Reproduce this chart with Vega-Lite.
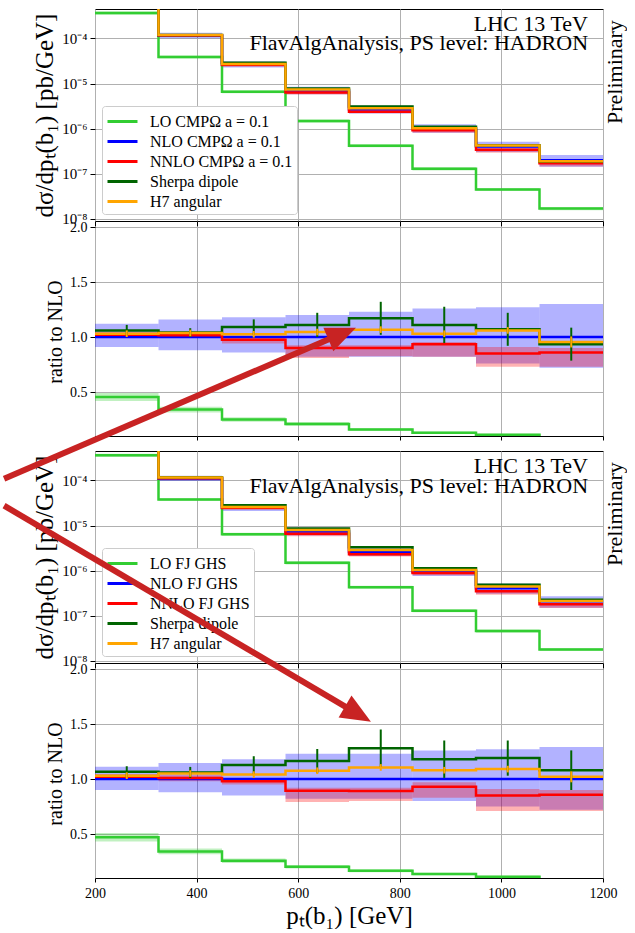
{
  "$schema": "https://vega.github.io/schema/vega-lite/v6.json",
  "padding": {"left": 0, "top": 8, "right": 0, "bottom": 0},
  "background": "white",
  "config": {
    "font": "Liberation Serif",
    "view": {"stroke": "black", "strokeWidth": 1},
    "axis": {"grid": true, "gridColor": "#b0b0b0", "gridWidth": 1, "domain": false, "tickColor": "black", "tickSize": 5, "labelColor": "black", "labelFontSize": 14, "labelFont": "Liberation Serif", "titleFont": "Liberation Serif", "titleFontWeight": "normal", "titleColor": "black", "labelFlush": false, "labelPadding": 3}
  },
  "datasets": {
    "one": [{"k": 0}],
    "m1": [
      {"lo":200,"hi":325,"c":262.5,"LO":3.66e-4,"LOl":3.37e-4,"LOh":3.95e-4,"NLO":8.04e-4,"NLOl":7.32e-4,"NLOh":9.0e-4,"NNLO":8.2e-4,"NNLOl":8.04e-4,"NNLOh":8.4e-4,"SH":8.52e-4,"H7":8.28e-4},
      {"lo":325,"hi":450,"c":387.5,"LO":3.9e-5,"LOl":3.59e-5,"LOh":4.21e-5,"NLO":1.147e-4,"NLOl":1.009e-4,"NLOh":1.331e-4,"NNLO":1.164e-4,"NNLOl":1.136e-4,"NNLOh":1.193e-4,"SH":1.193e-4,"H7":1.188e-4},
      {"lo":450,"hi":575,"c":512.5,"LO":6.6e-6,"LOl":6.07e-6,"LOh":7.13e-6,"NLO":2.64e-5,"NLOl":2.27e-5,"NLOh":3.115e-5,"NNLO":2.577e-5,"NNLOl":2.48e-5,"NNLOh":2.64e-5,"SH":2.878e-5,"H7":2.706e-5},
      {"lo":575,"hi":700,"c":637.5,"LO":1.48e-6,"LOl":1.36e-6,"LOh":1.6e-6,"NLO":7.05e-6,"NLOl":5.78e-6,"NLOh":8.46e-6,"NNLO":6.35e-6,"NNLOl":5.71e-6,"NNLOh":6.52e-6,"SH":7.83e-6,"H7":7.37e-6},
      {"lo":700,"hi":825,"c":762.5,"LO":4.2e-7,"LOl":3.86e-7,"LOh":4.54e-7,"NLO":2.66e-6,"NLOl":2.18e-6,"NLOh":3.27e-6,"NNLO":2.39e-6,"NNLOl":2.19e-6,"NNLOh":2.46e-6,"SH":3.11e-6,"H7":2.84e-6},
      {"lo":825,"hi":950,"c":887.5,"LO":1.29e-7,"LOl":1.19e-7,"LOh":1.39e-7,"NLO":9.92e-7,"NLOl":8.13e-7,"NLOh":1.25e-6,"NNLO":9.28e-7,"NNLOl":8.13e-7,"NNLOh":9.47e-7,"SH":1.101e-6,"H7":1.022e-6},
      {"lo":950,"hi":1075,"c":1012.5,"LO":4.5e-8,"LOl":4.14e-8,"LOh":4.86e-8,"NLO":4.02e-7,"NLOl":3.06e-7,"NLOh":5.11e-7,"NNLO":3.42e-7,"NNLOl":2.93e-7,"NNLOh":3.66e-7,"SH":4.3e-7,"H7":4.26e-7},
      {"lo":1075,"hi":1200,"c":1137.5,"LO":1.7e-8,"LOl":1.56e-8,"LOh":1.84e-8,"NLO":2.0e-7,"NLOl":1.44e-7,"NLOh":2.6e-7,"NNLO":1.72e-7,"NNLOl":1.46e-7,"NNLOh":1.8e-7,"SH":1.87e-7,"H7":1.91e-7}
    ],
    "r1": [
      {"lo":200,"hi":325,"c":262.5,"LO":0.455,"LOl":0.419,"LOh":0.491,"NLO":1,"NLOl":0.91,"NLOh":1.12,"NNLO":1.02,"NNLOl":1.0,"NNLOh":1.045,"SH":1.06,"SHl":1.01,"SHh":1.11,"H7":1.03,"H7l":1.0,"H7h":1.06},
      {"lo":325,"hi":450,"c":387.5,"LO":0.34,"LOl":0.313,"LOh":0.367,"NLO":1,"NLOl":0.88,"NLOh":1.16,"NNLO":1.015,"NNLOl":0.99,"NNLOh":1.04,"SH":1.04,"SHl":1.0,"SHh":1.08,"H7":1.036,"H7l":1.006,"H7h":1.066},
      {"lo":450,"hi":575,"c":512.5,"LO":0.25,"LOl":0.23,"LOh":0.27,"NLO":1,"NLOl":0.86,"NLOh":1.18,"NNLO":0.976,"NNLOl":0.94,"NNLOh":1.0,"SH":1.09,"SHl":1.02,"SHh":1.16,"H7":1.025,"H7l":0.995,"H7h":1.055},
      {"lo":575,"hi":700,"c":637.5,"LO":0.21,"LOl":0.193,"LOh":0.227,"NLO":1,"NLOl":0.82,"NLOh":1.2,"NNLO":0.9,"NNLOl":0.81,"NNLOh":0.925,"SH":1.11,"SHl":1.0,"SHh":1.22,"H7":1.045,"H7l":1.015,"H7h":1.075},
      {"lo":700,"hi":825,"c":762.5,"LO":0.158,"LOl":0.145,"LOh":0.171,"NLO":1,"NLOl":0.82,"NLOh":1.23,"NNLO":0.9,"NNLOl":0.825,"NNLOh":0.925,"SH":1.17,"SHl":1.02,"SHh":1.32,"H7":1.067,"H7l":1.037,"H7h":1.097},
      {"lo":825,"hi":950,"c":887.5,"LO":0.13,"LOl":0.12,"LOh":0.14,"NLO":1,"NLOl":0.82,"NLOh":1.26,"NNLO":0.935,"NNLOl":0.82,"NNLOh":0.955,"SH":1.11,"SHl":0.945,"SHh":1.275,"H7":1.03,"H7l":1.0,"H7h":1.06},
      {"lo":950,"hi":1075,"c":1012.5,"LO":0.112,"LOl":0.103,"LOh":0.121,"NLO":1,"NLOl":0.76,"NLOh":1.27,"NNLO":0.85,"NNLOl":0.73,"NNLOh":0.91,"SH":1.07,"SHl":0.92,"SHh":1.22,"H7":1.06,"H7l":1.03,"H7h":1.09},
      {"lo":1075,"hi":1200,"c":1137.5,"LO":0.085,"LOl":0.078,"LOh":0.092,"NLO":1,"NLOl":0.72,"NLOh":1.3,"NNLO":0.86,"NNLOl":0.73,"NNLOh":0.9,"SH":0.935,"SHl":0.785,"SHh":1.085,"H7":0.955,"H7l":0.905,"H7h":1.005}
    ],
    "m2": [
      {"lo":200,"hi":325,"c":262.5,"LO":3.6e-4,"LOl":3.31e-4,"LOh":3.89e-4,"NLO":7.66e-4,"NLOl":6.89e-4,"NLOh":8.52e-4,"NNLO":7.81e-4,"NNLOl":7.58e-4,"NNLOh":8.0e-4,"SH":8.17e-4,"H7":7.89e-4},
      {"lo":325,"hi":450,"c":387.5,"LO":3.8e-5,"LOl":3.5e-5,"LOh":4.1e-5,"NLO":1.111e-4,"NLOl":9.78e-5,"NLOh":1.272e-4,"NNLO":1.122e-4,"NNLOl":1.089e-4,"NNLOh":1.15e-4,"SH":1.178e-4,"H7":1.167e-4},
      {"lo":450,"hi":575,"c":512.5,"LO":6.4e-6,"LOl":5.89e-6,"LOh":6.91e-6,"NLO":2.49e-5,"NLOl":2.117e-5,"NLOh":2.938e-5,"NNLO":2.44e-5,"NNLOl":2.366e-5,"NNLOh":2.49e-5,"SH":2.806e-5,"H7":2.59e-5},
      {"lo":575,"hi":700,"c":637.5,"LO":1.5e-6,"LOl":1.38e-6,"LOh":1.62e-6,"NLO":7.39e-6,"NLOl":6.06e-6,"NLOh":9.09e-6,"NNLO":6.61e-6,"NNLOl":5.84e-6,"NNLOh":6.8e-6,"SH":8.59e-6,"H7":7.94e-6},
      {"lo":700,"hi":825,"c":762.5,"LO":4.3e-7,"LOl":3.96e-7,"LOh":4.64e-7,"NLO":2.59e-6,"NLOl":2.12e-6,"NLOh":3.19e-6,"NNLO":2.31e-6,"NNLOl":2.07e-6,"NNLOh":2.38e-6,"SH":3.32e-6,"H7":2.86e-6},
      {"lo":825,"hi":950,"c":887.5,"LO":1.3e-7,"LOl":1.2e-7,"LOh":1.4e-7,"NLO":9.56e-7,"NLOl":7.65e-7,"NLOh":1.205e-6,"NNLO":8.89e-7,"NNLOl":7.93e-7,"NNLOh":9.27e-7,"SH":1.128e-6,"H7":1.032e-6},
      {"lo":950,"hi":1075,"c":1012.5,"LO":4.6e-8,"LOl":4.23e-8,"LOh":4.97e-8,"NLO":4.11e-7,"NLOl":3.08e-7,"NLOh":5.22e-7,"NNLO":3.49e-7,"NNLOl":2.92e-7,"NNLOh":3.74e-7,"SH":4.89e-7,"H7":4.48e-7},
      {"lo":1075,"hi":1200,"c":1137.5,"LO":1.8e-8,"LOl":1.66e-8,"LOh":1.94e-8,"NLO":2.1e-7,"NLOl":1.51e-7,"NLOh":2.71e-7,"NNLO":1.8e-7,"NNLOl":1.49e-7,"NNLOh":1.89e-7,"SH":2.27e-7,"H7":2.14e-7}
    ],
    "r2": [
      {"lo":200,"hi":325,"c":262.5,"LO":0.47,"LOl":0.432,"LOh":0.508,"NLO":1,"NLOl":0.9,"NLOh":1.112,"NNLO":1.02,"NNLOl":0.99,"NNLOh":1.045,"SH":1.066,"SHl":1.016,"SHh":1.116,"H7":1.03,"H7l":1.0,"H7h":1.06},
      {"lo":325,"hi":450,"c":387.5,"LO":0.342,"LOl":0.315,"LOh":0.369,"NLO":1,"NLOl":0.88,"NLOh":1.145,"NNLO":1.01,"NNLOl":0.98,"NNLOh":1.035,"SH":1.06,"SHl":1.01,"SHh":1.11,"H7":1.05,"H7l":1.02,"H7h":1.08},
      {"lo":450,"hi":575,"c":512.5,"LO":0.257,"LOl":0.236,"LOh":0.278,"NLO":1,"NLOl":0.85,"NLOh":1.18,"NNLO":0.98,"NNLOl":0.95,"NNLOh":1.0,"SH":1.127,"SHl":1.047,"SHh":1.207,"H7":1.04,"H7l":1.01,"H7h":1.07},
      {"lo":575,"hi":700,"c":637.5,"LO":0.203,"LOl":0.187,"LOh":0.219,"NLO":1,"NLOl":0.82,"NLOh":1.23,"NNLO":0.894,"NNLOl":0.79,"NNLOh":0.92,"SH":1.163,"SHl":1.053,"SHh":1.273,"H7":1.075,"H7l":1.045,"H7h":1.105},
      {"lo":700,"hi":825,"c":762.5,"LO":0.166,"LOl":0.153,"LOh":0.179,"NLO":1,"NLOl":0.82,"NLOh":1.23,"NNLO":0.89,"NNLOl":0.8,"NNLOh":0.92,"SH":1.28,"SHl":1.11,"SHh":1.45,"H7":1.105,"H7l":1.075,"H7h":1.135},
      {"lo":825,"hi":950,"c":887.5,"LO":0.136,"LOl":0.125,"LOh":0.147,"NLO":1,"NLOl":0.8,"NLOh":1.26,"NNLO":0.93,"NNLOl":0.83,"NNLOh":0.97,"SH":1.18,"SHl":1.01,"SHh":1.35,"H7":1.08,"H7l":1.05,"H7h":1.11},
      {"lo":950,"hi":1075,"c":1012.5,"LO":0.112,"LOl":0.103,"LOh":0.121,"NLO":1,"NLOl":0.75,"NLOh":1.27,"NNLO":0.85,"NNLOl":0.71,"NNLOh":0.91,"SH":1.19,"SHl":1.03,"SHh":1.35,"H7":1.09,"H7l":1.06,"H7h":1.12},
      {"lo":1075,"hi":1200,"c":1137.5,"LO":0.086,"LOl":0.079,"LOh":0.093,"NLO":1,"NLOl":0.72,"NLOh":1.29,"NNLO":0.857,"NNLOl":0.71,"NNLOh":0.9,"SH":1.08,"SHl":0.9,"SHh":1.26,"H7":1.02,"H7l":0.97,"H7h":1.07}
    ]
  },
  "bounds": "flush",
  "spacing": 6,
  "resolve": {"scale": {"x": "independent", "y": "independent", "color": "independent"}, "legend": {"color": "independent"}},
  "vconcat": [
    {
      "width": 508, "height": 212,
      "data": {"name": "m1"},
      "layer": [
        {"mark": {"type": "rect", "color": "#32cd32", "opacity": 0.3, "clip": true},
         "encoding": {
           "x": {"field": "lo", "type": "quantitative", "scale": {"domain": [200, 1200], "nice": false, "zero": false}, "axis": {"values": [200, 400, 600, 800, 1000, 1200], "labels": false, "ticks": true, "tickSize": 5, "title": null}},
           "x2": {"field": "hi"},
           "y": {"field": "LOl", "type": "quantitative", "scale": {"type": "log", "domain": [9e-9, 4.5e-4], "nice": false}, "axis": {"values": [1e-8, 1e-7, 1e-6, 1e-5, 1e-4], "labelFontSize": 15, "labelExpr": "datum.value < 5e-8 ? '10⁻⁸' : datum.value < 5e-7 ? '10⁻⁷' : datum.value < 5e-6 ? '10⁻⁶' : datum.value < 5e-5 ? '10⁻⁵' : '10⁻⁴'", "title": "dσ/dpₜ(b₁) [pb/GeV]", "titleFontSize": 25, "titlePadding": 4}},
           "y2": {"field": "LOh"}}},
        {"mark": {"type": "rect", "color": "#0000ff", "opacity": 0.3, "clip": true},
         "encoding": {"x": {"field": "lo", "type": "quantitative"}, "x2": {"field": "hi"}, "y": {"field": "NLOl", "type": "quantitative"}, "y2": {"field": "NLOh"}}},
        {"mark": {"type": "rect", "color": "#ff0000", "opacity": 0.3, "clip": true},
         "encoding": {"x": {"field": "lo", "type": "quantitative"}, "x2": {"field": "hi"}, "y": {"field": "NNLOl", "type": "quantitative"}, "y2": {"field": "NNLOh"}}},
        {"transform": [{"fold": ["LO", "NLO", "NNLO", "SH", "H7"], "as": ["s", "v"]}, {"fold": ["lo", "hi"], "as": ["e", "xe"]}],
         "mark": {"type": "line", "strokeWidth": 2.5, "clip": true},
         "encoding": {
           "x": {"field": "xe", "type": "quantitative"},
           "y": {"field": "v", "type": "quantitative"},
           "color": {"field": "s", "type": "nominal", "scale": {"domain": ["LO", "NLO", "NNLO", "SH", "H7"], "range": ["#32cd32", "#0000ff", "#ff0000", "#006400", "#ffa500"]},
             "legend": {"title": null, "orient": "bottom-left", "offset": 7, "padding": 4, "fillColor": "white", "strokeColor": "#cccccc", "cornerRadius": 3, "symbolType": "M-1,0H2", "symbolSize": 400, "symbolStrokeWidth": 3, "labelFontSize": 16, "labelFont": "Liberation Serif", "labelColor": "black", "labelOffset": 21, "rowPadding": 0, "labelLimit": 300,
               "labelExpr": "datum.label == 'LO' ? 'LO CMPΩ a = 0.1' : datum.label == 'NLO' ? 'NLO CMPΩ a = 0.1' : datum.label == 'NNLO' ? 'NNLO CMPΩ a = 0.1' : datum.label == 'SH' ? 'Sherpa dipole' : 'H7 angular'"}},
           "order": [{"field": "c", "type": "quantitative"}, {"field": "e", "type": "nominal", "sort": "descending"}]}},
        {"data": {"name": "one"}, "mark": {"type": "text", "text": "LHC 13 TeV", "align": "right", "baseline": "alphabetic", "fontSize": 22, "fontWeight": "normal", "font": "Liberation Serif", "color": "black"},
         "encoding": {"x": {"datum": 1170.5}, "y": {"datum": 1.48e-4}}},
        {"data": {"name": "one"}, "mark": {"type": "text", "text": "FlavAlgAnalysis, PS level: HADRON", "align": "right", "baseline": "alphabetic", "fontSize": 22, "fontWeight": "normal", "font": "Liberation Serif", "color": "black"},
         "encoding": {"x": {"datum": 1170.5}, "y": {"datum": 5.52e-5}}},
        {"data": {"name": "one"}, "mark": {"type": "text", "text": "Preliminary", "angle": 270, "align": "center", "baseline": "alphabetic", "fontSize": 22, "fontWeight": "normal", "font": "Liberation Serif", "color": "black"},
         "encoding": {"x": {"datum": 1237}, "y": {"datum": 1.8e-5}}}
      ]
    },
    {
      "width": 508, "height": 209,
      "data": {"name": "r1"},
      "layer": [
        {"mark": {"type": "rect", "color": "#32cd32", "opacity": 0.3, "clip": true},
         "encoding": {
           "x": {"field": "lo", "type": "quantitative", "scale": {"domain": [200, 1200], "nice": false, "zero": false}, "axis": {"values": [200, 400, 600, 800, 1000, 1200], "labels": false, "ticks": true, "tickSize": 4, "title": null}},
           "x2": {"field": "hi"},
           "y": {"field": "LOl", "type": "quantitative", "scale": {"domain": [0.1, 2.0], "nice": false, "zero": false}, "axis": {"values": [0.5, 1.0, 1.5, 2.0], "format": ".1f", "title": "ratio to NLO", "titleFontSize": 20, "titlePadding": 4}},
           "y2": {"field": "LOh"}}},
        {"mark": {"type": "rect", "color": "#0000ff", "opacity": 0.3, "clip": true},
         "encoding": {"x": {"field": "lo", "type": "quantitative"}, "x2": {"field": "hi"}, "y": {"field": "NLOl", "type": "quantitative"}, "y2": {"field": "NLOh"}}},
        {"mark": {"type": "rect", "color": "#ff0000", "opacity": 0.3, "clip": true},
         "encoding": {"x": {"field": "lo", "type": "quantitative"}, "x2": {"field": "hi"}, "y": {"field": "NNLOl", "type": "quantitative"}, "y2": {"field": "NNLOh"}}},
        {"transform": [{"fold": ["LO", "NLO", "NNLO", "SH", "H7"], "as": ["s", "v"]}, {"fold": ["lo", "hi"], "as": ["e", "xe"]}],
         "mark": {"type": "line", "strokeWidth": 2.5, "clip": true},
         "encoding": {
           "x": {"field": "xe", "type": "quantitative"},
           "y": {"field": "v", "type": "quantitative"},
           "color": {"field": "s", "type": "nominal", "scale": {"domain": ["LO", "NLO", "NNLO", "SH", "H7"], "range": ["#32cd32", "#0000ff", "#ff0000", "#006400", "#ffa500"]}, "legend": null},
           "order": [{"field": "c", "type": "quantitative"}, {"field": "e", "type": "nominal", "sort": "descending"}]}},
        {"mark": {"type": "rule", "color": "#006400", "strokeWidth": 2, "clip": true},
         "encoding": {"x": {"field": "c", "type": "quantitative"}, "y": {"field": "SHl", "type": "quantitative"}, "y2": {"field": "SHh"}}},
        {"mark": {"type": "rule", "color": "#ffa500", "strokeWidth": 2, "clip": true},
         "encoding": {"x": {"field": "c", "type": "quantitative"}, "y": {"field": "H7l", "type": "quantitative"}, "y2": {"field": "H7h"}}}
      ]
    },
    {
      "width": 508, "height": 3,
      "view": {"stroke": null},
      "data": {"name": "one"},
      "mark": {"type": "text", "text": ""}
    },
    {
      "width": 508, "height": 212,
      "data": {"name": "m2"},
      "layer": [
        {"mark": {"type": "rect", "color": "#32cd32", "opacity": 0.3, "clip": true},
         "encoding": {
           "x": {"field": "lo", "type": "quantitative", "scale": {"domain": [200, 1200], "nice": false, "zero": false}, "axis": {"values": [200, 400, 600, 800, 1000, 1200], "labels": false, "ticks": true, "tickSize": 5, "title": null}},
           "x2": {"field": "hi"},
           "y": {"field": "LOl", "type": "quantitative", "scale": {"type": "log", "domain": [9e-9, 4.5e-4], "nice": false}, "axis": {"values": [1e-8, 1e-7, 1e-6, 1e-5, 1e-4], "labelFontSize": 15, "labelExpr": "datum.value < 5e-8 ? '10⁻⁸' : datum.value < 5e-7 ? '10⁻⁷' : datum.value < 5e-6 ? '10⁻⁶' : datum.value < 5e-5 ? '10⁻⁵' : '10⁻⁴'", "title": "dσ/dpₜ(b₁) [pb/GeV]", "titleFontSize": 25, "titlePadding": 4}},
           "y2": {"field": "LOh"}}},
        {"mark": {"type": "rect", "color": "#0000ff", "opacity": 0.3, "clip": true},
         "encoding": {"x": {"field": "lo", "type": "quantitative"}, "x2": {"field": "hi"}, "y": {"field": "NLOl", "type": "quantitative"}, "y2": {"field": "NLOh"}}},
        {"mark": {"type": "rect", "color": "#ff0000", "opacity": 0.3, "clip": true},
         "encoding": {"x": {"field": "lo", "type": "quantitative"}, "x2": {"field": "hi"}, "y": {"field": "NNLOl", "type": "quantitative"}, "y2": {"field": "NNLOh"}}},
        {"transform": [{"fold": ["LO", "NLO", "NNLO", "SH", "H7"], "as": ["s", "v"]}, {"fold": ["lo", "hi"], "as": ["e", "xe"]}],
         "mark": {"type": "line", "strokeWidth": 2.5, "clip": true},
         "encoding": {
           "x": {"field": "xe", "type": "quantitative"},
           "y": {"field": "v", "type": "quantitative"},
           "color": {"field": "s", "type": "nominal", "scale": {"domain": ["LO", "NLO", "NNLO", "SH", "H7"], "range": ["#32cd32", "#0000ff", "#ff0000", "#006400", "#ffa500"]},
             "legend": {"title": null, "orient": "bottom-left", "offset": 7, "padding": 4, "fillColor": "white", "strokeColor": "#cccccc", "cornerRadius": 3, "symbolType": "M-1,0H2", "symbolSize": 400, "symbolStrokeWidth": 3, "labelFontSize": 16, "labelFont": "Liberation Serif", "labelColor": "black", "labelOffset": 21, "rowPadding": 0, "labelLimit": 300,
               "labelExpr": "datum.label == 'LO' ? 'LO FJ GHS' : datum.label == 'NLO' ? 'NLO FJ GHS' : datum.label == 'NNLO' ? 'NNLO FJ GHS' : datum.label == 'SH' ? 'Sherpa dipole' : 'H7 angular'"}},
           "order": [{"field": "c", "type": "quantitative"}, {"field": "e", "type": "nominal", "sort": "descending"}]}},
        {"data": {"name": "one"}, "mark": {"type": "text", "text": "LHC 13 TeV", "align": "right", "baseline": "alphabetic", "fontSize": 22, "fontWeight": "normal", "font": "Liberation Serif", "color": "black"},
         "encoding": {"x": {"datum": 1170.5}, "y": {"datum": 1.43e-4}}},
        {"data": {"name": "one"}, "mark": {"type": "text", "text": "FlavAlgAnalysis, PS level: HADRON", "align": "right", "baseline": "alphabetic", "fontSize": 22, "fontWeight": "normal", "font": "Liberation Serif", "color": "black"},
         "encoding": {"x": {"datum": 1170.5}, "y": {"datum": 5.35e-5}}},
        {"data": {"name": "one"}, "mark": {"type": "text", "text": "Preliminary", "angle": 270, "align": "center", "baseline": "alphabetic", "fontSize": 22, "fontWeight": "normal", "font": "Liberation Serif", "color": "black"},
         "encoding": {"x": {"datum": 1237}, "y": {"datum": 1.8e-5}}}
      ]
    },
    {
      "width": 508, "height": 209,
      "data": {"name": "r2"},
      "layer": [
        {"mark": {"type": "rect", "color": "#32cd32", "opacity": 0.3, "clip": true},
         "encoding": {
           "x": {"field": "lo", "type": "quantitative", "scale": {"domain": [200, 1200], "nice": false, "zero": false}, "axis": {"values": [200, 400, 600, 800, 1000, 1200], "format": "d", "tickSize": 4, "labelPadding": 4, "title": "pₜ(b₁) [GeV]", "titleFontSize": 25, "titlePadding": 3}},
           "x2": {"field": "hi"},
           "y": {"field": "LOl", "type": "quantitative", "scale": {"domain": [0.1, 2.0], "nice": false, "zero": false}, "axis": {"values": [0.5, 1.0, 1.5, 2.0], "format": ".1f", "title": "ratio to NLO", "titleFontSize": 20, "titlePadding": 4}},
           "y2": {"field": "LOh"}}},
        {"mark": {"type": "rect", "color": "#0000ff", "opacity": 0.3, "clip": true},
         "encoding": {"x": {"field": "lo", "type": "quantitative"}, "x2": {"field": "hi"}, "y": {"field": "NLOl", "type": "quantitative"}, "y2": {"field": "NLOh"}}},
        {"mark": {"type": "rect", "color": "#ff0000", "opacity": 0.3, "clip": true},
         "encoding": {"x": {"field": "lo", "type": "quantitative"}, "x2": {"field": "hi"}, "y": {"field": "NNLOl", "type": "quantitative"}, "y2": {"field": "NNLOh"}}},
        {"transform": [{"fold": ["LO", "NLO", "NNLO", "SH", "H7"], "as": ["s", "v"]}, {"fold": ["lo", "hi"], "as": ["e", "xe"]}],
         "mark": {"type": "line", "strokeWidth": 2.5, "clip": true},
         "encoding": {
           "x": {"field": "xe", "type": "quantitative"},
           "y": {"field": "v", "type": "quantitative"},
           "color": {"field": "s", "type": "nominal", "scale": {"domain": ["LO", "NLO", "NNLO", "SH", "H7"], "range": ["#32cd32", "#0000ff", "#ff0000", "#006400", "#ffa500"]}, "legend": null},
           "order": [{"field": "c", "type": "quantitative"}, {"field": "e", "type": "nominal", "sort": "descending"}]}},
        {"mark": {"type": "rule", "color": "#006400", "strokeWidth": 2, "clip": true},
         "encoding": {"x": {"field": "c", "type": "quantitative"}, "y": {"field": "SHl", "type": "quantitative"}, "y2": {"field": "SHh"}}},
        {"mark": {"type": "rule", "color": "#ffa500", "strokeWidth": 2, "clip": true},
         "encoding": {"x": {"field": "c", "type": "quantitative"}, "y": {"field": "H7l", "type": "quantitative"}, "y2": {"field": "H7h"}}},
        {"data": {"name": "one"}, "mark": {"type": "rule", "color": "#c82323", "strokeWidth": 6},
         "encoding": {"x": {"datum": 21}, "x2": {"datum": 686.6}, "y": {"datum": 3.73}, "y2": {"datum": 5.049}}},
        {"data": {"name": "one"}, "mark": {"type": "point", "shape": "M0,-1L0.85,1L-0.85,1Z", "filled": true, "color": "#c82323", "opacity": 1, "size": 900, "angle": 67, "strokeWidth": 0},
         "encoding": {"x": {"datum": 686.6}, "y": {"datum": 5.049}}},
        {"data": {"name": "one"}, "mark": {"type": "rule", "color": "#c82323", "strokeWidth": 6},
         "encoding": {"x": {"datum": 21}, "x2": {"datum": 717.7}, "y": {"datum": 3.485}, "y2": {"datum": 1.59}}},
        {"data": {"name": "one"}, "mark": {"type": "point", "shape": "M0,-1L0.85,1L-0.85,1Z", "filled": true, "color": "#c82323", "opacity": 1, "size": 900, "angle": 120.3, "strokeWidth": 0},
         "encoding": {"x": {"datum": 717.7}, "y": {"datum": 1.59}}}
      ]
    }
  ]
}
